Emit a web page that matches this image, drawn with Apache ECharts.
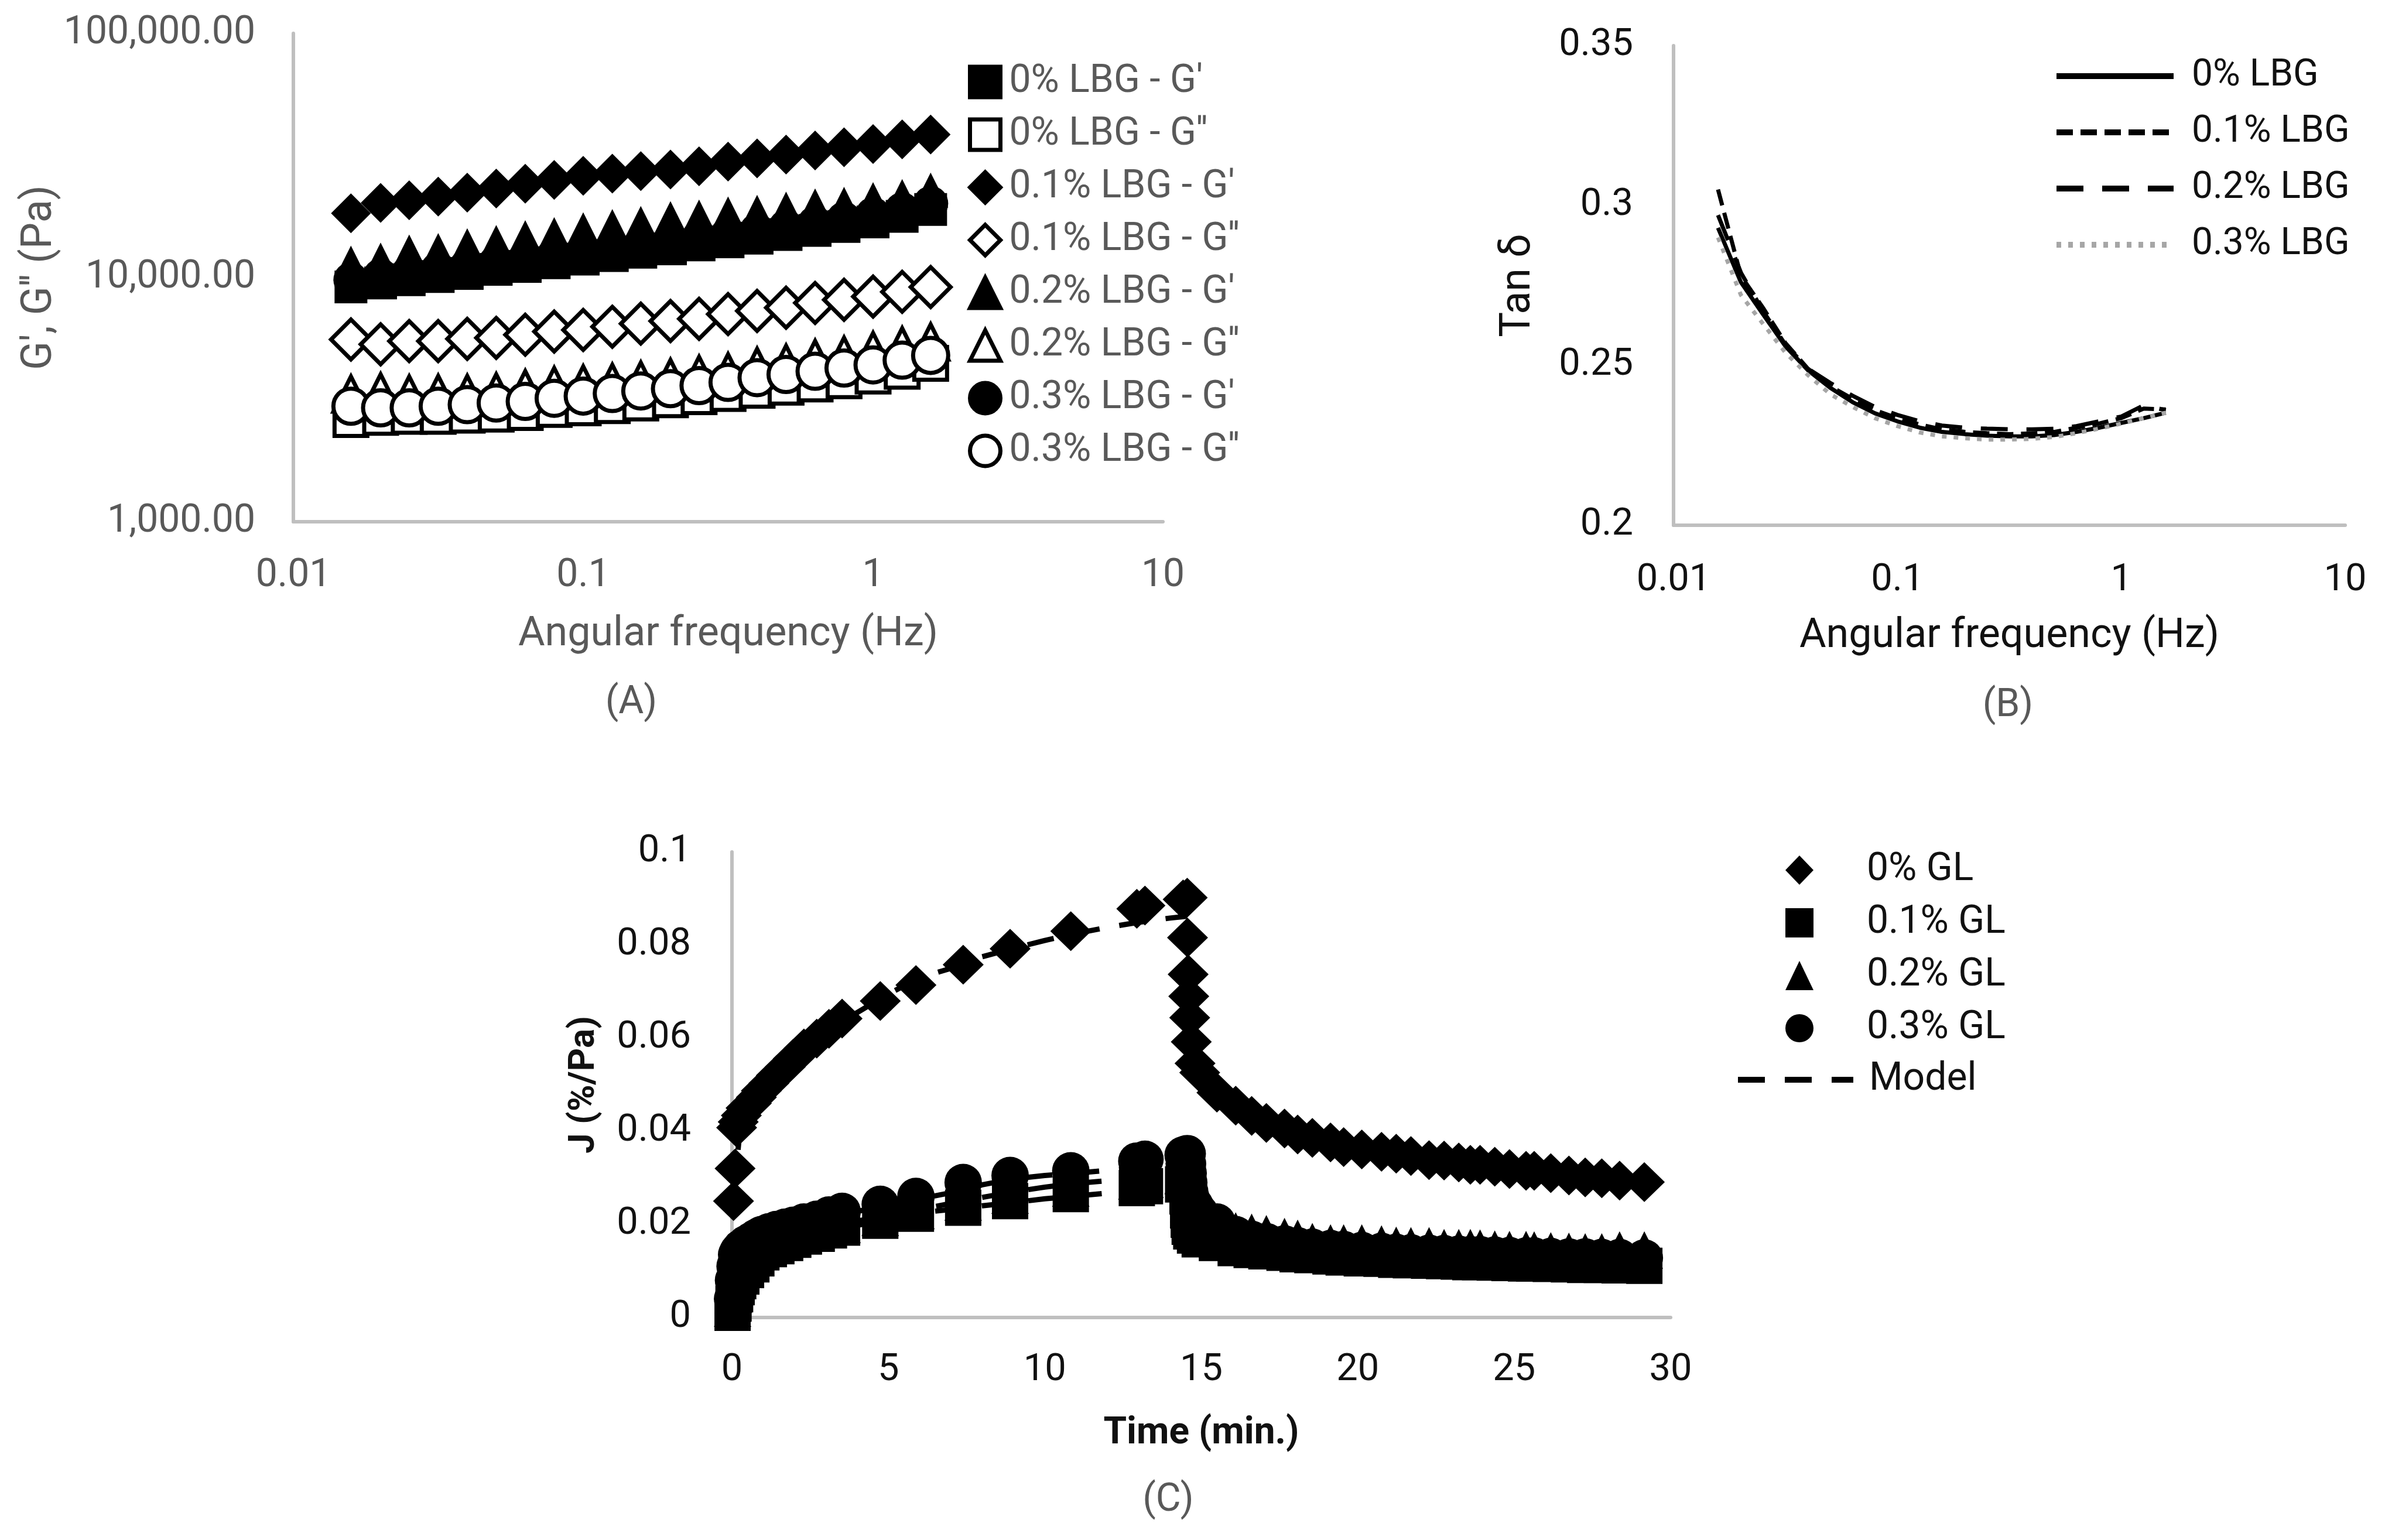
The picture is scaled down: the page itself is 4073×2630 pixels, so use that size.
<!DOCTYPE html>
<html><head><meta charset="utf-8">
<script src="https://cdn.jsdelivr.net/npm/echarts@6/dist/echarts.min.js"></script>
<style>html,body{margin:0;padding:0;background:#fff}#c{width:4073px;height:2630px}</style>
</head><body><div id="c"></div>
<script>
// ---------- Panel A: G', G'' vs angular frequency ----------
const freq = [0.0158, 0.02, 0.0251, 0.0316, 0.0398, 0.0501, 0.0631, 0.0794, 0.1, 0.126, 0.158, 0.2, 0.251, 0.316, 0.398, 0.501, 0.631, 0.794, 1, 1.26, 1.58];
const g1_0  = [9150, 9500, 9800, 10100, 10400, 10800, 11100, 11500, 11900, 12300, 12700, 13100, 13600, 14000, 14500, 15000, 15600, 16200, 16900, 17800, 19000];
const g2_0  = [2620, 2676, 2700, 2700, 2733, 2757, 2799, 2884, 2928, 2990, 3063, 3157, 3252, 3351, 3453, 3557, 3665, 3777, 3951, 4133, 4454];
const g1_01 = [18320, 20220, 20720, 21470, 22260, 23140, 24210, 25100, 26100, 26650, 27290, 27700, 28540, 29860, 30760, 31890, 33150, 34160, 35200, 36820, 38520];
const g2_01 = [5576, 5330, 5493, 5493, 5609, 5660, 5832, 6010, 6100, 6286, 6477, 6634, 6774, 7085, 7300, 7523, 7871, 8110, 8356, 8740, 9142];
const g1_02 = [11450, 11790, 12720, 12900, 13500, 13910, 14550, 14990, 15680, 16160, 16650, 17410, 17680, 18210, 18490, 19050, 19630, 19930, 20840, 21470, 22800];
const g2_02 = [3331, 3401, 3331, 3351, 3351, 3401, 3505, 3611, 3665, 3721, 3800, 3892, 4010, 4108, 4322, 4454, 4659, 4801, 5021, 5252, 5445];
const g1_03 = [9800, 10150, 10500, 10800, 11150, 11550, 11900, 12300, 12750, 13150, 13600, 14050, 14550, 15000, 15550, 16100, 16700, 17350, 18100, 18950, 20100];
const g2_03 = [2972, 2928, 2928, 2972, 3018, 3063, 3109, 3203, 3271, 3351, 3432, 3505, 3611, 3721, 3892, 4010, 4133, 4258, 4388, 4588, 4801];
const namesA = ["0% LBG - G'", "0% LBG - G''", "0.1% LBG - G'", "0.1% LBG - G''", "0.2% LBG - G'", "0.2% LBG - G''", "0.3% LBG - G'", "0.3% LBG - G''"];

// ---------- Panel B: tan delta ----------
const tan_0  = [0.293, 0.276, 0.266, 0.256, 0.2485, 0.243, 0.2385, 0.235, 0.2325, 0.2305, 0.2292, 0.2285, 0.228, 0.2278, 0.2278, 0.2282, 0.2292, 0.2305, 0.232, 0.2335, 0.2352];
const tan_01 = [0.305, 0.278, 0.268, 0.257, 0.249, 0.2435, 0.2395, 0.236, 0.2335, 0.2315, 0.23, 0.2292, 0.2288, 0.2285, 0.2287, 0.2292, 0.2305, 0.2318, 0.2335, 0.2365, 0.2362];
const tan_02 = [0.297, 0.279, 0.267, 0.2565, 0.249, 0.2445, 0.2405, 0.237, 0.2345, 0.2325, 0.2312, 0.2305, 0.2302, 0.23, 0.23, 0.2302, 0.231, 0.2325, 0.234, 0.2375, 0.236];
const tan_03 = [0.29, 0.272, 0.263, 0.254, 0.247, 0.241, 0.237, 0.2335, 0.231, 0.229, 0.2278, 0.2272, 0.2268, 0.2268, 0.227, 0.2276, 0.2288, 0.2302, 0.2318, 0.2335, 0.2352];
const namesB = ['0% LBG', '0.1% LBG', '0.2% LBG', '0.3% LBG'];

// ---------- Panel C: creep & recovery compliance ----------
const creepT0 = [0.05, 0.1, 0.15, 0.2, 0.3, 0.45, 0.62, 0.78, 0.94, 1.18, 1.42, 1.7, 1.96, 2.3, 2.71, 3.1, 3.52, 4.74, 5.88, 7.39, 8.89, 10.83, 12.94, 13.2, 14.42, 14.55];
const creepJ0 = [0.025, 0.032, 0.0408, 0.042, 0.0434, 0.045, 0.046, 0.0473, 0.0487, 0.0503, 0.052, 0.0538, 0.0556, 0.0578, 0.0599, 0.062, 0.0642, 0.068, 0.0714, 0.0758, 0.0792, 0.083, 0.0878, 0.0885, 0.0898, 0.0902];
const creepT  = [0.02, 0.05, 0.1, 0.15, 0.2, 0.3, 0.45, 0.62, 0.78, 0.94, 1.18, 1.42, 1.7, 1.96, 2.3, 2.71, 3.1, 3.52, 4.74, 5.88, 7.39, 8.89, 10.83, 12.94, 13.2, 14.42, 14.55];
const creepJ1 = [0.001, 0.003, 0.005, 0.0065, 0.0078, 0.0088, 0.0102, 0.0114, 0.0127, 0.014, 0.0147, 0.0153, 0.016, 0.0167, 0.0174, 0.018, 0.0187, 0.0193, 0.0208, 0.0223, 0.0236, 0.025, 0.0265, 0.0278, 0.0282, 0.0286, 0.0288];
const creepJ2 = [0.002, 0.005, 0.0075, 0.0095, 0.011, 0.0122, 0.0132, 0.014, 0.0148, 0.0155, 0.0161, 0.0166, 0.0172, 0.0177, 0.0183, 0.0189, 0.0195, 0.02, 0.0215, 0.023, 0.0248, 0.0263, 0.0278, 0.0293, 0.0297, 0.0305, 0.0307];
const creepJ3 = [0.004, 0.008, 0.011, 0.0135, 0.0142, 0.015, 0.0158, 0.0165, 0.0172, 0.0178, 0.0184, 0.0189, 0.0194, 0.0198, 0.0205, 0.0211, 0.022, 0.0228, 0.0243, 0.026, 0.029, 0.0305, 0.0315, 0.0336, 0.034, 0.0349, 0.0352];
const recT  = [14.56, 14.58, 14.6, 14.63, 14.68, 14.8, 14.95, 15.5, 16.1, 16.61, 17.08, 17.66, 18.08, 18.55, 19.13, 19.55, 20.13, 20.76, 21.23, 21.7, 22.28, 22.76, 23.23, 23.6, 23.91, 24.38, 24.85, 25.38, 25.64, 26.17, 26.75, 27.27, 27.8, 28.37, 29.16];
const recJ0 = [0.0816, 0.0737, 0.069, 0.0644, 0.0592, 0.0546, 0.0526, 0.0483, 0.0455, 0.0433, 0.0418, 0.0406, 0.0393, 0.0386, 0.0376, 0.0366, 0.0361, 0.0356, 0.0352, 0.0347, 0.0338, 0.0337, 0.0333, 0.0328, 0.0328, 0.0324, 0.0319, 0.0315, 0.0315, 0.031, 0.0305, 0.0301, 0.0299, 0.0294, 0.0291];
const recJ1 = [0.026, 0.023, 0.021, 0.0195, 0.0185, 0.0176, 0.0168, 0.016, 0.0149, 0.0145, 0.0142, 0.0139, 0.0136, 0.0134, 0.0131, 0.0129, 0.0127, 0.0126, 0.0124, 0.0123, 0.0122, 0.0121, 0.012, 0.0119, 0.0119, 0.0118, 0.0117, 0.0116, 0.0116, 0.0115, 0.0114, 0.0113, 0.0113, 0.0112, 0.0111];
const recJ2 = [0.029, 0.0265, 0.0245, 0.0228, 0.0215, 0.0205, 0.0198, 0.019, 0.0186, 0.0183, 0.018, 0.0174, 0.017, 0.0163, 0.016, 0.016, 0.016, 0.0158, 0.0155, 0.0154, 0.0154, 0.015, 0.015, 0.015, 0.0149, 0.0147, 0.0146, 0.0146, 0.0145, 0.0143, 0.0142, 0.0141, 0.0141, 0.0145, 0.0145];
const recJ3 = [0.033, 0.031, 0.029, 0.027, 0.0255, 0.024, 0.0225, 0.0205, 0.0178, 0.0168, 0.0163, 0.0158, 0.0154, 0.0151, 0.0148, 0.0146, 0.0144, 0.0142, 0.014, 0.0139, 0.0138, 0.0137, 0.0136, 0.0135, 0.0135, 0.0134, 0.0133, 0.0132, 0.0132, 0.0131, 0.013, 0.013, 0.0129, 0.0129, 0.0128];
const modelT  = [0.05, 0.3, 0.6, 1, 1.5, 2, 3, 4, 5, 6, 7, 8, 9, 10, 11, 12, 13, 14, 14.55];
const model0  = [0.026, 0.0432, 0.046, 0.049, 0.0525, 0.0557, 0.0612, 0.0655, 0.0695, 0.073, 0.075, 0.0775, 0.0793, 0.081, 0.0825, 0.0838, 0.0849, 0.0858, 0.0862];
const model1  = [0.004, 0.0088, 0.0113, 0.0143, 0.0154, 0.0166, 0.0184, 0.0198, 0.021, 0.0225, 0.0232, 0.024, 0.0247, 0.0255, 0.0261, 0.0267, 0.0273, 0.0279, 0.0283];
const model2  = [0.006, 0.0122, 0.014, 0.0155, 0.0166, 0.0177, 0.0192, 0.0207, 0.022, 0.0232, 0.0245, 0.0258, 0.027, 0.028, 0.0288, 0.0294, 0.03, 0.0305, 0.0307];
const model3  = [0.008, 0.015, 0.0165, 0.0178, 0.0189, 0.0198, 0.0213, 0.0228, 0.024, 0.0255, 0.0268, 0.0285, 0.0298, 0.0305, 0.031, 0.0316, 0.0322, 0.0328, 0.0331];
const modelRecT = [14.6, 15, 15.5, 16, 16.5, 17, 18, 19, 20, 21, 22, 23, 24, 25, 26, 27, 28, 29.2];
const modelRec0 = [0.056, 0.052, 0.0485, 0.0459, 0.0438, 0.0421, 0.0395, 0.0376, 0.0362, 0.0351, 0.0342, 0.0334, 0.0327, 0.032, 0.0313, 0.0306, 0.0299, 0.0292];
const namesC = ['0% GL', '0.1% GL', '0.2% GL', '0.3% GL'];

// ---------- build ----------
const FONT = 'Roboto, "Noto Sans", sans-serif';
const GRAY = '#595959';
const DARK = '#111111';
const pairs = (xs, ys) => xs.map((x, i) => [x, ys[i]]);
const axLine = { show: true, onZero: false, lineStyle: { color: '#bfbfbf', width: 6 } };
const logFmt = v => String(parseFloat(Number(v).toPrecision(4)));
const thouFmt = v => Number(v).toLocaleString('en-US', { minimumFractionDigits: 2, maximumFractionDigits: 2 });

function lbl(color, size, margin, fmt) {
  const o = { color: color, fontSize: size, fontFamily: FONT, margin: margin };
  if (fmt) o.formatter = fmt;
  return o;
}

const filled = { color: '#000', borderColor: '#000', borderWidth: 0, opacity: 1 };
const open = { color: '#fff', borderColor: '#000', borderWidth: 7, opacity: 1 };

const seriesA = [
  { name: namesA[0], sym: 'rect', size: 56, st: filled, d: g1_0 },
  { name: namesA[1], sym: 'rect', size: 56, st: open, d: g2_0 },
  { name: namesA[2], sym: 'diamond', size: [68, 68], st: filled, d: g1_01 },
  { name: namesA[3], sym: 'diamond', size: [68, 68], st: open, d: g2_01 },
  { name: namesA[4], sym: 'triangle', size: 60, st: filled, d: g1_02 },
  { name: namesA[5], sym: 'triangle', size: 60, st: open, d: g2_02 },
  { name: namesA[6], sym: 'circle', size: 60, st: filled, d: g1_03 },
  { name: namesA[7], sym: 'circle', size: 60, st: open, d: g2_03 }
].map(s => ({
  type: 'scatter', name: s.name, xAxisIndex: 0, yAxisIndex: 0,
  symbol: s.sym, symbolSize: s.size, itemStyle: s.st,
  data: pairs(freq, s.d), emphasis: { disabled: true }
}));

const styleB = [
  { d: tan_0, type: 'solid', color: '#000' },
  { d: tan_01, type: [28, 13], color: '#000' },
  { d: tan_02, type: [46, 32], color: '#000' },
  { d: tan_03, type: [8, 12], color: '#a6a6a6' }
];
const seriesB = styleB.map((s, i) => ({
  type: 'line', name: namesB[i], xAxisIndex: 1, yAxisIndex: 1,
  symbol: 'none', showSymbol: false,
  lineStyle: { color: s.color, width: 7, type: s.type },
  itemStyle: { color: s.color },
  data: pairs(freq, s.d), emphasis: { disabled: true }
}));

const cDefs = [
  { sym: 'diamond', size: [70, 68], t: creepT0, j: creepJ0, rj: recJ0 },
  { sym: 'rect', size: 62, t: creepT, j: creepJ1, rj: recJ1 },
  { sym: 'triangle', size: 64, t: creepT, j: creepJ2, rj: recJ2 },
  { sym: 'circle', size: 64, t: creepT, j: creepJ3, rj: recJ3 }
];
const seriesC = cDefs.map((s, i) => ({
  type: 'scatter', name: namesC[i], xAxisIndex: 2, yAxisIndex: 2,
  symbol: s.sym, symbolSize: s.size, itemStyle: filled, clip: false,
  data: pairs(s.t, s.j).concat(pairs(recT, s.rj)), emphasis: { disabled: true }
}));
const modelLine = { color: '#000', width: 9, type: [46, 34] };
const modelSets = [pairs(modelT, model0), pairs(modelRecT, modelRec0), pairs(modelT, model1), pairs(modelT, model2), pairs(modelT, model3)];
modelSets.forEach(d => seriesC.push({
  type: 'line', name: 'Model', xAxisIndex: 2, yAxisIndex: 2,
  symbol: 'none', showSymbol: false, lineStyle: modelLine, itemStyle: { color: '#000' },
  data: d, emphasis: { disabled: true }, z: 3
}));

const noDot = { color: 'rgba(0,0,0,0)', borderWidth: 0, opacity: 0 };

const option = {
  backgroundColor: '#fff',
  animation: false,
  textStyle: { fontFamily: FONT },
  grid: [
    { left: 501, top: 57, width: 1485, height: 834, containLabel: false, outerBoundsMode: 'none' },
    { left: 2858, top: 78, width: 1147, height: 819, containLabel: false, outerBoundsMode: 'none' },
    { left: 1250, top: 1455, width: 1603, height: 795, containLabel: false, outerBoundsMode: 'none' }
  ],
  xAxis: [
    { gridIndex: 0, type: 'log', logBase: 10, min: 0.01, max: 10, axisLine: axLine, axisTick: { show: false }, splitLine: { show: false },
      axisLabel: lbl(GRAY, 66, 60, logFmt),
      name: 'Angular frequency (Hz)', nameLocation: 'middle', nameGap: 158,
      nameTextStyle: { color: GRAY, fontSize: 70, fontFamily: FONT } },
    { gridIndex: 1, type: 'log', logBase: 10, min: 0.01, max: 10, axisLine: axLine, axisTick: { show: false }, splitLine: { show: false },
      axisLabel: lbl(DARK, 65, 62, logFmt),
      name: 'Angular frequency (Hz)', nameLocation: 'middle', nameGap: 155,
      nameTextStyle: { color: DARK, fontSize: 70, fontFamily: FONT } },
    { gridIndex: 2, type: 'value', min: 0, max: 30, interval: 5, axisLine: axLine, axisTick: { show: false }, splitLine: { show: false },
      axisLabel: lbl(DARK, 65, 58),
      name: 'Time (min.)', nameLocation: 'middle', nameGap: 167,
      nameTextStyle: { color: DARK, fontSize: 64, fontWeight: 'bold', fontFamily: FONT } }
  ],
  yAxis: [
    { gridIndex: 0, type: 'log', logBase: 10, min: 1000, max: 100000, axisLine: axLine, axisTick: { show: false }, splitLine: { show: false },
      axisLabel: lbl(GRAY, 66, 65, thouFmt),
      name: "G', G'' (Pa)", nameLocation: 'middle', nameGap: 385,
      nameTextStyle: { color: GRAY, fontSize: 72, fontFamily: FONT } },
    { gridIndex: 1, type: 'value', min: 0.2, max: 0.35, interval: 0.05, axisLine: axLine, axisTick: { show: false }, splitLine: { show: false },
      axisLabel: lbl(DARK, 65, 69),
      name: 'Tan δ', nameLocation: 'middle', nameGap: 228,
      nameTextStyle: { color: DARK, fontSize: 72, fontFamily: FONT } },
    { gridIndex: 2, type: 'value', min: 0, max: 0.1, interval: 0.02, axisLine: axLine, axisTick: { show: false }, splitLine: { show: false },
      axisLabel: lbl(DARK, 65, 70),
      name: 'J (%/Pa)', nameLocation: 'middle', nameGap: 221,
      nameTextStyle: { color: DARK, fontSize: 62, fontWeight: 'bold', fontFamily: FONT } }
  ],
  legend: [
    { data: namesA, orient: 'vertical', left: 1648, top: 102, itemWidth: 52, itemHeight: 52, itemGap: 24,
      selectedMode: false, itemStyle: { borderWidth: 7, opacity: 1 },
      textStyle: { color: GRAY, fontSize: 66, lineHeight: 66, fontFamily: FONT, padding: [0, 0, 0, 10] } },
    { data: namesB, orient: 'vertical', left: 3502, top: 93, itemWidth: 200, itemHeight: 20, itemGap: 32,
      selectedMode: false, lineStyle: { width: 10 }, itemStyle: noDot,
      textStyle: { color: DARK, fontSize: 64, lineHeight: 64, fontFamily: FONT, padding: [0, 0, 0, 26] } },
    { data: namesC, orient: 'vertical', left: 3044, top: 1448, itemWidth: 48, itemHeight: 50, itemGap: 24,
      selectedMode: false, itemStyle: { opacity: 1 },
      textStyle: { color: DARK, fontSize: 66, lineHeight: 66, fontFamily: FONT, padding: [0, 0, 0, 86] } },
    { data: ['Model'], orient: 'vertical', left: 2958, top: 1806, itemWidth: 197, itemHeight: 20,
      selectedMode: false, lineStyle: { width: 10 }, itemStyle: noDot,
      textStyle: { color: DARK, fontSize: 66, lineHeight: 66, fontFamily: FONT, padding: [0, 0, 0, 22] } }
  ],
  graphic: [
    { type: 'text', x: 1078, y: 1201, silent: true, style: { text: '(A)', fill: GRAY, font: '66px ' + FONT, align: 'center', verticalAlign: 'middle' } },
    { type: 'text', x: 3429, y: 1206, silent: true, style: { text: '(B)', fill: GRAY, font: '66px ' + FONT, align: 'center', verticalAlign: 'middle' } },
    { type: 'text', x: 1995, y: 2563, silent: true, style: { text: '(C)', fill: GRAY, font: '66px ' + FONT, align: 'center', verticalAlign: 'middle' } }
  ],
  series: seriesA.concat(seriesB, seriesC)
};
const chart = echarts.init(document.getElementById('c'), null, { renderer: 'canvas', width: 4073, height: 2630 });
chart.setOption(option);
</script>
</body></html>
